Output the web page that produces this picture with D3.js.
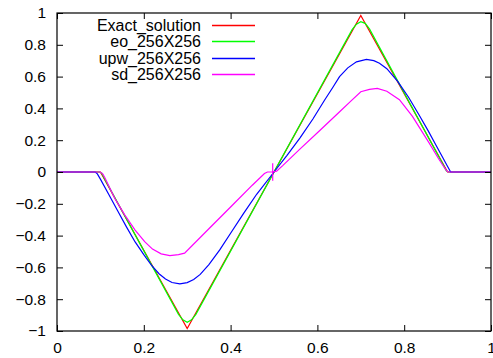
<!DOCTYPE html>
<html>
<head>
<meta charset="utf-8">
<script src="https://cdn.jsdelivr.net/npm/d3@7"></script>
<style>
  body { margin: 0; background: #fff; }
  svg { display: block; }
  text { font-family: "Liberation Sans", Arial, sans-serif; font-size: 15.5px; fill: #000; }
  .legend text { font-size: 16px; }
</style>
</head>
<body>
<div id="chart"></div>
<script>
// tick values
let xTicks = [0, 0.2, 0.4, 0.6, 0.8, 1];
let yTicks = [-1, -0.8, -0.6, -0.4, -0.2, 0, 0.2, 0.4, 0.6, 0.8, 1];

// series, [x, y]
let exactSolution = [[0, 0], [0.1, 0], [0.3, -0.985], [0.7, 0.985], [0.9, 0], [1, 0]];

let eo256 = [[0, 0], [0.098, 0], [0.103, -0.008], [0.11, -0.045], [0.28, -0.895], [0.29, -0.93],
  [0.3, -0.945], [0.31, -0.93], [0.32, -0.895], [0.68, 0.895], [0.69, 0.93], [0.7, 0.945],
  [0.71, 0.935], [0.72, 0.9], [0.89, 0.045], [0.897, 0.008], [0.902, 0], [1, 0]];

let upw256 = [[0, 0], [0.088, 0], [0.093, -0.012], [0.1, -0.045], [0.12, -0.145], [0.14, -0.245],
  [0.16, -0.345], [0.18, -0.44], [0.2, -0.52], [0.218, -0.588], [0.235, -0.64], [0.25, -0.673],
  [0.265, -0.695], [0.283, -0.704], [0.3, -0.696], [0.315, -0.676], [0.33, -0.644], [0.35, -0.583],
  [0.375, -0.49], [0.4, -0.385], [0.43, -0.26], [0.46, -0.14], [0.5, 0], [0.53, 0.105],
  [0.56, 0.215], [0.59, 0.335], [0.616, 0.45], [0.635, 0.53], [0.651, 0.6], [0.67, 0.655],
  [0.69, 0.693], [0.713, 0.708], [0.73, 0.7], [0.743, 0.684], [0.76, 0.65], [0.785, 0.57],
  [0.81, 0.47], [0.834, 0.36], [0.855, 0.26], [0.873, 0.17], [0.89, 0.085], [0.9, 0.035],
  [0.907, 0], [1, 0]];

let sd256 = [[0, 0], [0.099, 0], [0.105, -0.01], [0.11, -0.035], [0.133, -0.165], [0.156, -0.27],
  [0.18, -0.365], [0.202, -0.438], [0.22, -0.485], [0.24, -0.515], [0.26, -0.526], [0.28, -0.52],
  [0.294, -0.51], [0.35, -0.357], [0.4, -0.22], [0.45, -0.083], [0.478, -0.01], [0.485, 0],
  [0.497, 0], [0.497, 0.055], [0.497, -0.055], [0.497, 0], [0.506, 0.005], [0.52, 0.04],
  [0.559, 0.142], [0.6, 0.247], [0.65, 0.376], [0.677, 0.446], [0.7, 0.505], [0.72, 0.52],
  [0.738, 0.526], [0.76, 0.508], [0.789, 0.455], [0.819, 0.35], [0.857, 0.185], [0.88, 0.08],
  [0.892, 0.03], [0.897, 0.01], [0.901, 0], [1, 0]];

let seriesNames = ["Exact_solution", "eo_256X256", "upw_256X256", "sd_256X256"];
let seriesColors = ["#ff0000", "#00ff00", "#0000ff", "#ff00ff"];
let seriesData = [exactSolution, eo256, upw256, sd256];

let width = 493, height = 358;
let margins = {left: 57, right: 2, top: 13, bottom: 27};

let svg = d3.select("#chart")
  .append("svg")
  .attr("width", width)
  .attr("height", height);

let x = d3.scaleLinear().domain([0, 1]).range([margins.left, width - margins.right]);
let y = d3.scaleLinear().domain([-1, 1]).range([height - margins.bottom, margins.top]);

let line = d3.line()
  .x(function(d) { return x(d[0]); })
  .y(function(d) { return y(d[1]); });

// curves first, frame on top
svg.append("g")
  .selectAll("path")
  .data(seriesData)
  .enter().append("path")
  .attr("d", function(d) { return line(d); })
  .attr("fill", "none")
  .attr("stroke", function(d, i) { return seriesColors[i]; })
  .attr("stroke-width", 1.2);

// axes, ticks pointing inward on all four sides
let axisB = svg.append("g")
  .attr("transform", "translate(0," + y(-1) + ")")
  .call(d3.axisBottom(x).tickValues(xTicks).tickSize(-6).tickPadding(11).tickFormat(d3.format("")));
let axisT = svg.append("g")
  .attr("transform", "translate(0," + y(1) + ")")
  .call(d3.axisTop(x).tickValues(xTicks).tickSize(-6).tickFormat(""));
let axisL = svg.append("g")
  .attr("transform", "translate(" + x(0) + ",0)")
  .call(d3.axisLeft(y).tickValues(yTicks).tickSize(-6).tickPadding(11).tickFormat(d3.format("")));
let axisR = svg.append("g")
  .attr("transform", "translate(" + x(1) + ",0)")
  .call(d3.axisRight(y).tickValues(yTicks).tickSize(-6).tickFormat(""));

[axisB, axisT, axisL, axisR].forEach(function(g) {
  g.select(".domain").remove();
  g.selectAll("text").attr("font-family", null).attr("font-size", null);
  g.selectAll("line").attr("stroke", "#000");
});

svg.append("rect")
  .attr("x", x(0))
  .attr("y", y(1))
  .attr("width", x(1) - x(0))
  .attr("height", y(-1) - y(1))
  .attr("fill", "none")
  .attr("stroke", "#000")
  .attr("stroke-width", 1.2);

// legend
let legend = svg.append("g")
  .attr("class", "legend")
  .selectAll("g")
  .data(seriesNames)
  .enter().append("g")
  .attr("transform", function(d, i) { return "translate(0," + (Math.round(25 + i * 16.4) + 0.5) + ")"; });

legend.append("text")
  .attr("x", 201)
  .attr("dy", "0.35em")
  .attr("text-anchor", "end")
  .text(function(d) { return d; });

legend.append("path")
  .attr("d", "M212,0H255")
  .attr("fill", "none")
  .attr("stroke", function(d) { return seriesColors[seriesNames.indexOf(d)]; })
  .attr("stroke-width", 1.4);
</script>
</body>
</html>
